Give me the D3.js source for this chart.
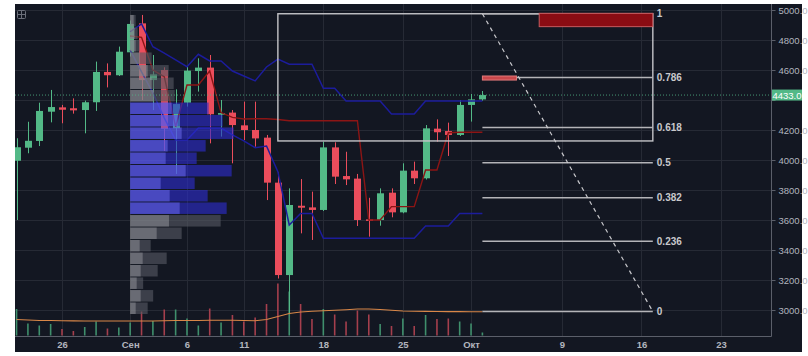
<!DOCTYPE html>
<html><head><meta charset="utf-8">
<script src="https://cdn.jsdelivr.net/npm/d3@7"></script>
<style>html,body{margin:0;padding:0;background:#fff;}svg{display:block;}</style>
</head><body>
<svg id="c" width="808" height="356"></svg>
<script>
// ---------- DATA ----------
const dates = ["2017-08-22","2017-08-23","2017-08-24","2017-08-25","2017-08-26","2017-08-27","2017-08-28","2017-08-29","2017-08-30","2017-08-31",
"2017-09-01","2017-09-02","2017-09-03","2017-09-04","2017-09-05","2017-09-06","2017-09-07","2017-09-08","2017-09-09","2017-09-10",
"2017-09-11","2017-09-12","2017-09-13","2017-09-14","2017-09-15","2017-09-16","2017-09-17","2017-09-18","2017-09-19","2017-09-20",
"2017-09-21","2017-09-22","2017-09-23","2017-09-24","2017-09-25","2017-09-26","2017-09-27","2017-09-28","2017-09-29","2017-09-30",
"2017-10-01","2017-10-02"];
const open  = [3995,4082,4127,4322,4351,4345,4333,4385,4587,4565, 4718,4911,4533,4600,4211,4382,4593,4616,4302,4316, 4231,4200,4149,3849,3233,3695,3684,3667,4084,3893, 3876,3604,3600,3782,3651,3929,3878,4209,4193,4167, 4367,4404];
const high  = [4145,4255,4382,4467,4367,4411,4396,4656,4644,4756, 4930,4967,4700,4618,4471,4627,4678,4700,4400,4333, 4389,4389,4167,3916,3811,3873,3789,4122,4118,4055, 3907,3748,3811,3811,3978,3989,4233,4271,4249,4400, 4440,4460];
const low   = [3600,4045,4093,4251,4245,4309,4178,4327,4484,4560, 4690,4400,4333,4060,3907,4356,4456,4111,4156,3978, 4133,4089,3733,3210,2980,3511,3467,3660,3840,3833, 3560,3489,3562,3618,3645,3840,3870,4122,4027,4160, 4256,4395];
const close = [4085,4128,4327,4353,4335,4331,4385,4587,4565,4722, 4907,4533,4571,4207,4373,4596,4616,4305,4313,4233, 4200,4144,3849,3233,3700,3682,3667,4084,3889,3871, 3600,3596,3778,3651,3929,3878,4211,4185,4167,4367, 4404,4433];
const volume = [26.5,12,10,11.5,6.5,4.5,8.5,14,7,8, 13,24,14.5,26,26,17,10,27,13,20.5, 14,18,31.5,52,44,31.5,16.5,26.5,21,14, 25,21,11.5,9.5,17,9.5,20.5,16.5,17,14, 12,3];
const volumeMA = [16,15.5,15,15,14.8,14.6,14.5,14.5,14.5,14.5, 14.5,14.5,14.5,14.7,15,15,15,15.2,15.2,15.2, 15,14.8,16,19,22,23.5,24.2,24.8,25.3,25.8, 26.5,26.5,26,25.3,24.5,24.3,24.1,24,23.9,23.9, 23.8,23.8];
// indicator lines (from 2017-09-01)
const upperBand = [4855,4907,4755,4713,4667,4622,4705,4660,4660,4593, 4560,4527,4620,4673,4638,4638,4638,4478,4478,4393, 4393,4393,4393,4307,4307,4307,4393,4393,4393,4393, 4393,4393];
const lowerBand = [4733,4587,4447,4280,4133,4133,4213,4213,4213,4167, 4127,4082,4093,3922,3567,3644,3644,3478,3478,3478, 3478,3478,3478,3478,3478,3478,3560,3560,3560,3644, 3644,3644];
const midLine   = [4827,4818,4600,4556,4222,4500,4500,4593,4316,4284, 4273,4275,4275,4270,4262,4262,4262,4262,4262,4262, 4262,3600,3600,3689,3689,3689,3933,3933,4182,4185, 4185,4185];
const lineStart = "2017-09-01";
// volume profile (rows from top), bin lower price, up volume, total volume
const profileBin   = [4887,4803,4720,4637,4553,4470,4387,4303,4220,4137,4053,3970,3887,3803,3720,3637,3553,3470,3387,3303,3220,3137,3053,2970];
const profileUp    = [3.5,4.5,5.5,9.5,17.5,21.5,23.5,41.5,47.5,51.5,37.5,35.5,55.5,30.5,39.5,49.5,38.8,26.5,9.5,12.5,10.5,6.5,10.5,5.5];
const profileTotal = [5.5,7.5,9.5,21.5,38.5,43.5,44.5,78.5,92.5,103.5,75.5,66.5,101.5,64.5,77.5,96.5,90.5,51.5,20.5,36.5,27.5,13,23,17.5];
const profileInValueArea = [0,0,0,0,0,0,0,1,1,1,1,1,1,1,1,1,0,0,0,0,0,0,0,0];
const profileStep = 83.33;
const profileAnchor = "2017-09-01";
// fibonacci
const fibLevels = [0,0.236,0.382,0.5,0.618,0.786,1];
const fibLabels = ["0","0.236","0.382","0.5","0.618","0.786","1"];
const fibLow = 2990, fibHigh = 4975, fibFrom = "2017-10-02", fibTo = "2017-10-17";
// drawings
const boxRect = {from:"2017-09-14", to:"2017-10-17", top:4975, bottom:4127};
const redSmall = {from:"2017-10-02", to:"2017-10-05", top:4560, bottom:4533};
const redBig = {from:"2017-10-07", to:"2017-10-17", top:4978, bottom:4889};
// axes
const timeTicks = ["2017-08-26","2017-09-01","2017-09-06","2017-09-11","2017-09-18","2017-09-25","2017-10-01","2017-10-09","2017-10-16","2017-10-23"];
const timeTickLabels = ["26","Сен","6","11","18","25","Окт","9","16","23"];
const priceTicks = [3000,3200,3400,3600,3800,4000,4200,4400,4600,4800,5000];
const lastPrice = 4433;

// ---------- DRAW ----------
const P = d3.utcParse("%Y-%m-%d");
const svg = d3.select("#c");
const L = 15, R = 771, T = 4, B = 336;
const x = d3.scaleUtc().domain([P("2017-08-26"), P("2017-10-23")]).range([62, 721]);
const y = d3.scaleLinear().domain([3000, 5000]).range([310, 10]);
const vy = d3.scaleLinear().domain([0, 60]).range([335.5, 275.5]);
const pw = d3.scaleLinear().domain([0, 100]).range([0, 100]);

const GREEN = "#53b987", RED = "#eb4d5c", BG = "#131722", GRID = "#262a35";
const FONT = "Liberation Sans, Arial, sans-serif";

svg.append("rect").attr("x", L).attr("y", T).attr("width", 802 - L).attr("height", 352 - T).attr("fill", BG);
const defs = svg.append("defs");
defs.append("clipPath").attr("id", "plot").append("rect").attr("x", L).attr("y", T).attr("width", R - L).attr("height", B - T);

const g = svg.append("g").attr("clip-path", "url(#plot)");

// grid
g.selectAll(".hg").data(priceTicks).join("line")
  .attr("x1", L).attr("x2", R).attr("y1", d => Math.round(y(d)) + 0.5).attr("y2", d => Math.round(y(d)) + 0.5)
  .attr("stroke", GRID).attr("stroke-width", 1);
g.selectAll(".vg").data(timeTicks).join("line")
  .attr("y1", T).attr("y2", B).attr("x1", d => Math.round(x(P(d))) + 0.5).attr("x2", d => Math.round(x(P(d))) + 0.5)
  .attr("stroke", GRID).attr("stroke-width", 1);

const rows = dates.map((d, i) => ({d: P(d), o: open[i], h: high[i], l: low[i], c: close[i], v: volume[i], ma: volumeMA[i]}));

// volume
g.selectAll(".vol").data(rows).join("line")
  .attr("x1", d => x(d.d)).attr("x2", d => x(d.d))
  .attr("y1", vy(0)).attr("y2", d => vy(d.v))
  .attr("stroke", d => d.c >= d.o ? "#3f8f6c" : "#a53f4d").attr("stroke-width", 1.6);
g.append("path").datum(rows)
  .attr("d", d3.line().x(d => x(d.d)).y(d => vy(d.ma)))
  .attr("fill", "none").attr("stroke", "#d98748").attr("stroke-width", 1.1);

// candles
const cw = 7;
g.selectAll(".wick").data(rows).join("line")
  .attr("x1", d => Math.round(x(d.d)) + 0.5).attr("x2", d => Math.round(x(d.d)) + 0.5)
  .attr("y1", d => y(d.h)).attr("y2", d => y(d.l))
  .attr("stroke", d => d.c >= d.o ? GREEN : RED).attr("stroke-width", 1);
g.selectAll(".body").data(rows).join("rect")
  .attr("x", d => Math.round(x(d.d)) + 0.5 - cw / 2).attr("width", cw)
  .attr("y", d => y(Math.max(d.o, d.c))).attr("height", d => Math.max(1.5, Math.abs(y(d.o) - y(d.c))))
  .attr("fill", d => d.c >= d.o ? GREEN : RED);

// indicator lines
const s0 = dates.indexOf(lineStart);
function lineData(arr) { return arr.map((v, i) => ({d: P(dates[s0 + i]), v})); }
const ln = d3.line().x(d => x(d.d)).y(d => y(d.v));
g.append("path").datum(lineData(upperBand)).attr("d", ln).attr("fill", "none").attr("stroke", "#1c1c9c").attr("stroke-width", 1.5);
g.append("path").datum(lineData(lowerBand)).attr("d", ln).attr("fill", "none").attr("stroke", "#1c1c9c").attr("stroke-width", 1.5);
g.append("path").datum(lineData(midLine)).attr("d", ln).attr("fill", "none").attr("stroke", "#8c1515").attr("stroke-width", 1.4);

// volume profile
const px0 = x(P(profileAnchor));
const prof = profileBin.map((b, i) => ({b, up: profileUp[i], tot: profileTotal[i], va: profileInValueArea[i]}));
g.selectAll(".pt").data(prof).join("rect")
  .attr("x", px0).attr("width", d => pw(d.tot))
  .attr("y", d => y(d.b + profileStep) + 0.5).attr("height", d => y(d.b) - y(d.b + profileStep) - 1)
  .attr("fill", d => d.va ? "rgba(45,45,205,0.62)" : "rgba(85,88,98,0.62)");
g.selectAll(".pu").data(prof).join("rect")
  .attr("x", px0).attr("width", d => pw(d.up))
  .attr("y", d => y(d.b + profileStep) + 0.5).attr("height", d => y(d.b) - y(d.b + profileStep) - 1)
  .attr("fill", d => d.va ? "rgba(120,120,255,0.45)" : "rgba(170,170,175,0.42)");

// box drawing
g.append("rect")
  .attr("x", x(P(boxRect.from))).attr("y", y(boxRect.top))
  .attr("width", x(P(boxRect.to)) - x(P(boxRect.from))).attr("height", y(boxRect.bottom) - y(boxRect.top))
  .attr("fill", "none").attr("stroke", "#c4c4c8").attr("stroke-width", 1.4);

// fib
const fy = lv => y(fibLow + lv * (fibHigh - fibLow));
const fx1 = x(P(fibFrom)), fx2 = x(P(fibTo));
g.selectAll(".fib").data(fibLevels).join("line")
  .attr("x1", fx1).attr("x2", fx2).attr("y1", d => fy(d)).attr("y2", d => fy(d))
  .attr("stroke", "#b4b4b8").attr("stroke-width", 1.5);
g.append("line").attr("x1", fx1).attr("y1", fy(1)).attr("x2", fx2).attr("y2", fy(0))
  .attr("stroke", "#c8c8cc").attr("stroke-width", 1.2).attr("stroke-dasharray", "4,4");

function box(r, fill, stroke) {
  g.append("rect").attr("x", x(P(r.from))).attr("y", y(r.top))
    .attr("width", x(P(r.to)) - x(P(r.from))).attr("height", y(r.bottom) - y(r.top))
    .attr("fill", fill).attr("stroke", stroke).attr("stroke-width", 1);
}
box(redSmall, "#c9484c", "#e07a7a");
box(redBig, "#8a0c13", "#c85a5e");

svg.append("g").selectAll("text").data(fibLevels).join("text")
  .attr("x", fx2 + 4).attr("y", d => fy(d) + 3.5)
  .attr("fill", "#c8c8cc").attr("font-family", FONT).attr("font-size", 10).attr("font-weight", "bold")
  .text((d, i) => fibLabels[i]);

// current price dotted line
g.append("line").attr("x1", L).attr("x2", R).attr("y1", y(lastPrice)).attr("y2", y(lastPrice))
  .attr("stroke", GREEN).attr("stroke-width", 1).attr("stroke-dasharray", "1,2").attr("opacity", 0.8);

// top-left icon
const ic = svg.append("g").attr("stroke", "#6b6f7a").attr("fill", "none").attr("stroke-width", 1);
ic.append("rect").attr("x", 17.5).attr("y", 10.5).attr("width", 8).attr("height", 8).attr("rx", 1);
ic.append("line").attr("x1", 21.5).attr("x2", 21.5).attr("y1", 10.5).attr("y2", 18.5);
ic.append("line").attr("x1", 17.5).attr("x2", 25.5).attr("y1", 14.5).attr("y2", 14.5);

// axes (tick labels colliding with the last-price label are hidden, as in the platform)
const AX = "#5b5f6a";
const labelGap = 8;
const yAxis = d3.axisRight(y).tickValues(priceTicks)
  .tickFormat(d => Math.abs(y(d) - y(lastPrice)) < labelGap ? "" : d3.format(".1f")(d))
  .tickSize(4).tickPadding(3);
const ya = svg.append("g").attr("transform", `translate(${R + 0.5},0)`).call(yAxis);
ya.select(".domain").remove();
ya.selectAll(".tick line").attr("stroke", AX);
ya.selectAll(".tick text").attr("fill", "#b2b5be").attr("font-family", FONT).attr("font-size", 9.5);
svg.append("line").attr("x1", R + 0.5).attr("x2", R + 0.5).attr("y1", T).attr("y2", B + 0.5).attr("stroke", AX);
svg.append("line").attr("x1", L).attr("x2", R + 0.5).attr("y1", B + 0.5).attr("y2", B + 0.5).attr("stroke", AX);

const xAxis = d3.axisBottom(x).tickValues(timeTicks.map(P)).tickFormat((d, i) => timeTickLabels[i]).tickSize(0).tickPadding(5);
const xa = svg.append("g").attr("transform", `translate(0,${B})`).call(xAxis);
xa.select(".domain").remove();
xa.selectAll(".tick text").attr("fill", "#b2b5be").attr("font-family", FONT).attr("font-size", 9.5).attr("font-weight", "bold");

// last price label
const ly = y(lastPrice);
svg.append("rect").attr("x", R + 1).attr("y", ly - 5.5).attr("width", 30).attr("height", 11).attr("fill", GREEN);
svg.append("text").attr("x", R + 16).attr("y", ly + 3.5).attr("text-anchor", "middle")
  .attr("fill", "#ffffff").attr("font-family", FONT).attr("font-size", 9.5).text(lastPrice.toFixed(1));
</script>
</body></html>
